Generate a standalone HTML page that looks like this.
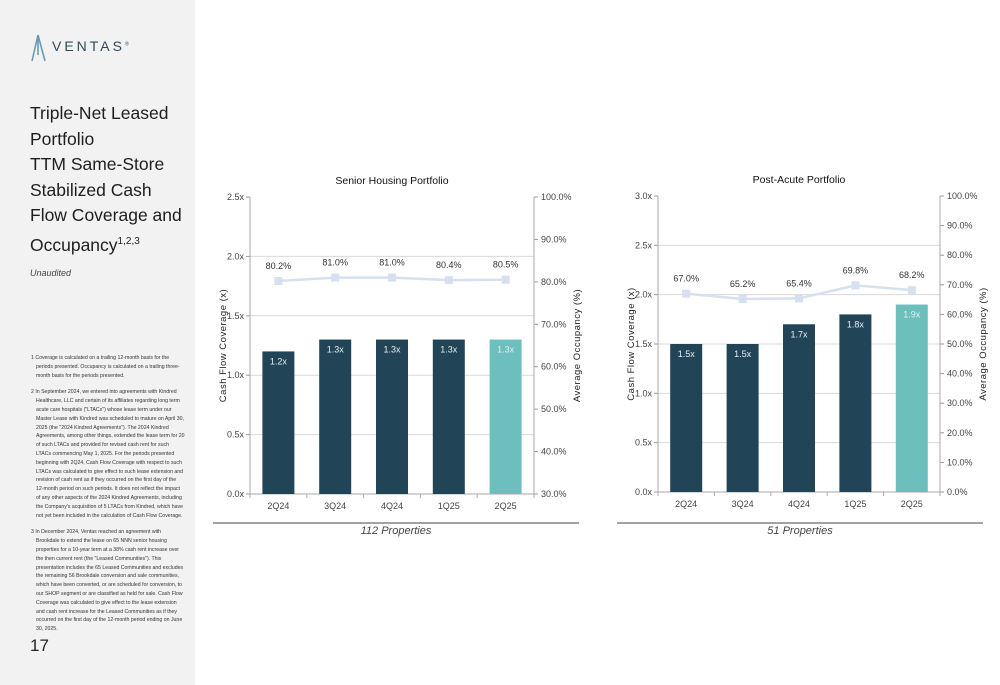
<!DOCTYPE html>
<html><head><meta charset="utf-8">
<style>
body{margin:0;width:1000px;height:685px;overflow:hidden;background:#fff;font-family:"Liberation Sans",sans-serif;}
#side{position:absolute;left:0;top:0;width:195px;height:685px;background:#f2f2f2;}
.t{position:absolute;color:#222;}
svg{position:absolute;left:0;top:0;}
</style></head><body>
<div id="side">
  <svg width="30" height="32" style="left:30px;top:33px"><path d="M8 2 L2 28 M8 2 L15 28 M8 2 L8 22" stroke="#6a9bb5" stroke-width="1.6" fill="none"/></svg>
  <div class="t" style="left:52px;top:38px;font-size:14px;letter-spacing:3px;color:#2d4a5e">VENTAS<sup style="font-size:5px">®</sup></div>
  <div class="t" style="left:30px;top:101px;font-size:17.5px;line-height:25.5px;white-space:nowrap;color:#1e1e1e">Triple-Net Leased<br>Portfolio<br>TTM Same-Store<br>Stabilized Cash<br>Flow Coverage and<br>Occupancy<sup style="font-size:10px">1,2,3</sup></div>
  <div class="t" style="left:30px;top:268px;font-size:9px;font-style:italic;color:#444">Unaudited</div>
  <div class="t" style="left:31px;top:354px;width:154px;font-size:5.2px;line-height:8.8px;color:#333">
  <div style="padding-left:5px;text-indent:-5px">1 Coverage is calculated on a trailing 12-month basis for the periods presented. Occupancy is calculated on a trailing three-month basis for the periods presented.</div>
  <div style="padding-left:5px;text-indent:-5px;margin-top:8px">2 In September 2024, we entered into agreements with Kindred Healthcare, LLC and certain of its affiliates regarding long term acute care hospitals ("LTACs") whose lease term under our Master Lease with Kindred was scheduled to mature on April 30, 2025 (the "2024 Kindred Agreements"). The 2024 Kindred Agreements, among other things, extended the lease term for 20 of such LTACs and provided for revised cash rent for such LTACs commencing May 1, 2025. For the periods presented beginning with 2Q24, Cash Flow Coverage with respect to such LTACs was calculated to give effect to such lease extension and revision of cash rent as if they occurred on the first day of the 12-month period on such periods. It does not reflect the impact of any other aspects of the 2024 Kindred Agreements, including the Company's acquisition of 5 LTACs from Kindred, which have not yet been included in the calculation of Cash Flow Coverage.</div>
  <div style="padding-left:5px;text-indent:-5px;margin-top:8px">3 In December 2024, Ventas reached an agreement with Brookdale to extend the lease on 65 NNN senior housing properties for a 10-year term at a 38% cash rent increase over the then current rent (the "Leased Communities"). This presentation includes the 65 Leased Communities and excludes the remaining 56 Brookdale conversion and sale communities, which have been converted, or are scheduled for conversion, to our SHOP segment or are classified as held for sale. Cash Flow Coverage was calculated to give effect to the lease extension and cash rent increase for the Leased Communities as if they occurred on the first day of the 12-month period ending on June 30, 2025.</div>
  </div>
  <div class="t" style="left:30px;top:636px;font-size:17px">17</div>
</div>
<svg id="chart" width="1000" height="685"></svg>
<script>
const categories=["2Q24","3Q24","4Q24","1Q25","2Q25"];
const seniorCoverage=[1.2,1.3,1.3,1.3,1.3];
const seniorOccupancy=[80.2,81.0,81.0,80.4,80.5];
const postCoverage=[1.5,1.5,1.7,1.8,1.9];
const postOccupancy=[67.0,65.2,65.4,69.8,68.2];
const seniorLeftTicks=[0,0.5,1.0,1.5,2.0,2.5];
const seniorRightTicks=[30,40,50,60,70,80,90,100];
const postLeftTicks=[0,0.5,1.0,1.5,2.0,2.5,3.0];
const postRightTicks=[0,10,20,30,40,50,60,70,80,90,100];
const NS="http://www.w3.org/2000/svg";
const svg=document.getElementById('chart');
function mk(tag,attrs,parent,text){const e=document.createElementNS(NS,tag);for(const k in attrs)e.setAttribute(k,attrs[k]);if(text!==undefined)e.textContent=text;(parent||svg).appendChild(e);return e;}
function draw(cfg){
  const g=mk('g',{});
  
  
  const {x0,x1,yT,yB,lMax,rMin,rMax}=cfg;
  const yL=v=>yB-(v/lMax)*(yB-yT);
  const yR=v=>yB-((v-rMin)/(rMax-rMin))*(yB-yT);
  const bw=(x1-x0)/categories.length;
  const xc=i=>x0+bw*(i+0.5);
  cfg.lt.forEach(t=>{const y=yL(t);
    if(t>0&&t<lMax){const l=mk('line',{x1:x0,x2:x1,y1:y,y2:y,stroke:'#d9d9d9','stroke-width':1},g);}
    mk('line',{x1:x0-4,x2:x0,y1:y,y2:y,stroke:'#999'},g);
    const tx=mk('text',{x:x0-6,y:y+3,'text-anchor':'end','font-size':9,fill:'#444'},g,t.toFixed(1)+'x');
    });
  cfg.rt.forEach(t=>{const y=yR(t);
    mk('line',{x1:x1,x2:x1+4,y1:y,y2:y,stroke:'#999'},g);
    const tx=mk('text',{x:x1+7,y:y+3,'font-size':9,fill:'#444'},g,t.toFixed(1)+'%');
    });
  mk('line',{x1:x0,x2:x0,y1:yT,y2:yB,stroke:'#aaa'},g);
  mk('line',{x1:x1,x2:x1,y1:yT,y2:yB,stroke:'#aaa'},g);
  mk('line',{x1:x0,x2:x1,y1:yB,y2:yB,stroke:'#aaa'},g);
  for(let i=0;i<=categories.length;i++)mk('line',{x1:x0+bw*i,x2:x0+bw*i,y1:yB,y2:yB+4,stroke:'#aaa'},g);
  cfg.cov.forEach((v,i)=>{const last=i===categories.length-1;
    const r=mk('rect',{x:xc(i)-16,y:yL(v),width:32,height:yB-yL(v),fill:last?'#6dbfbd':'#224457'},g);
    
    const t=mk('text',{x:xc(i),y:yL(v)+13,'text-anchor':'middle','font-size':9,fill:'#e8eef2'},g,v.toFixed(1)+'x');
    
    const c=mk('text',{x:xc(i),y:yB+15,'text-anchor':'middle','font-size':9,fill:'#444'},g,categories[i]);
    });
  const pl=mk('polyline',{points:cfg.occ.map((v,i)=>xc(i)+','+yR(v)).join(' '),fill:'none',stroke:'#d6e0f0','stroke-width':2.5},g);
  
  cfg.occ.forEach((v,i)=>{const m=mk('rect',{x:xc(i)-4,y:yR(v)-4,width:8,height:8,fill:'#d6e0f0'},g);
    
    const t=mk('text',{x:xc(i),y:yR(v)-12,'text-anchor':'middle','font-size':9,fill:'#333'},g,v.toFixed(1)+'%');
    });
  const ti=mk('text',{x:(x0+x1)/2,y:yT-13,'text-anchor':'middle','font-size':10.5,fill:'#111'},g,cfg.title);
  
  const ya=mk('text',{x:0,y:0,'text-anchor':'middle','font-size':9.5,fill:'#222','letter-spacing':0.5,transform:`translate(${x0-24},${(yT+yB)/2}) rotate(-90)`},g,'Cash Flow Coverage (x)');
  
  const yb=mk('text',{x:0,y:0,'text-anchor':'middle','font-size':9.5,fill:'#222','letter-spacing':0.5,transform:`translate(${x1+46},${(yT+yB)/2}) rotate(-90)`},g,'Average Occupancy (%)');
  
  mk('line',{x1:cfg.ux0,x2:cfg.ux1,y1:523,y2:523,stroke:'#444','stroke-width':1},g);
  const p=mk('text',{x:(cfg.ux0+cfg.ux1)/2,y:534,'text-anchor':'middle','font-size':11,'font-style':'italic',fill:'#444'},g,cfg.props);
  
}
draw({name:'senior-housing-chart',title:'Senior Housing Portfolio',x0:250,x1:534,yT:197,yB:494,lMax:2.5,rMin:30,rMax:100,lt:seniorLeftTicks,rt:seniorRightTicks,cov:seniorCoverage,occ:seniorOccupancy,ux0:213,ux1:579,props:'112 Properties'});
draw({name:'post-acute-chart',title:'Post-Acute Portfolio',x0:658,x1:940,yT:196,yB:492,lMax:3.0,rMin:0,rMax:100,lt:postLeftTicks,rt:postRightTicks,cov:postCoverage,occ:postOccupancy,ux0:617,ux1:983,props:'51 Properties'});
</script>
</body></html>
